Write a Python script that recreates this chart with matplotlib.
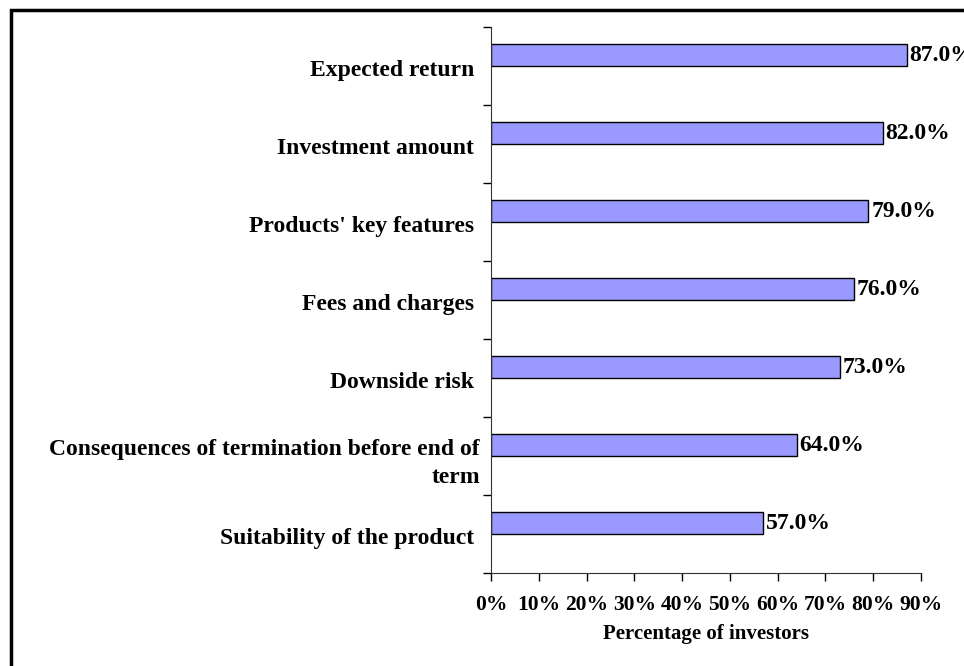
import matplotlib
matplotlib.use("Agg")
import matplotlib.pyplot as plt
from matplotlib.patches import Rectangle
from matplotlib.ticker import FixedLocator, PercentFormatter

# data, bottom to top
categories = [
    "Suitability of the product ",
    "Consequences of termination before end of\nterm",
    "Downside risk ",
    "Fees and charges ",
    "Products' key features ",
    "Investment amount ",
    "Expected return ",
]
values = [57.0, 64.0, 73.0, 76.0, 79.0, 82.0, 87.0]
x_ticks = [0, 10, 20, 30, 40, 50, 60, 70, 80, 90]

plt.rcParams['font.family'] = ['Liberation Serif', 'DejaVu Serif']
plt.rcParams['font.weight'] = 'bold'

fig = plt.figure(figsize=(9.64, 6.66), dpi=100)
ax = fig.add_axes([491 / 964, 1 - 573 / 666, 430 / 964, 546 / 666])

pos = [i + 0.64 for i in range(len(values))]
ax.barh(pos, values, height=0.28, color='#9999FF', edgecolor='black', linewidth=1.0)

for p, v in zip(pos, values):
    ax.text(v + 0.6, p, f"{v:.1f}%", ha='left', va='center',
            fontsize=17, fontweight='bold', clip_on=False)

ax.set_xlim(0, 90)
ax.set_ylim(0, len(values))
ax.set_xticks(x_ticks)
ax.xaxis.set_major_formatter(PercentFormatter(decimals=0))
ax.tick_params(axis='x', direction='out', length=6, width=1, pad=10, labelsize=15.5)

ax.yaxis.set_major_locator(FixedLocator(range(len(values) + 1)))
ax.set_yticklabels([])
ax.yaxis.set_minor_locator(FixedLocator([i + 0.48 for i in range(len(values))]))
ax.set_yticklabels(categories, minor=True, fontsize=17, fontweight='bold', ha='right')
ax.tick_params(axis='y', which='major', direction='out', length=6, width=1)
ax.tick_params(axis='y', which='minor', length=0, pad=8)
for lbl in ax.get_yticklabels(minor=True):
    lbl.set_multialignment('right')
    lbl.set_linespacing(1.45)

ax.spines['top'].set_visible(False)
ax.spines['right'].set_visible(False)
ax.spines['left'].set_color('#333333')
ax.spines['bottom'].set_color('#333333')

ax.set_xlabel("Percentage of investors", fontsize=15, fontweight='bold', labelpad=6)

# frame of the chart area, cut by the picture edge
fig.patches.append(Rectangle((10.5 / 964, -0.1), 1.2, 1 - 10.5 / 666 + 0.1,
                             transform=fig.transFigure, fill=False,
                             edgecolor='black', linewidth=2.5))

fig.savefig("out.png", dpi=100)
